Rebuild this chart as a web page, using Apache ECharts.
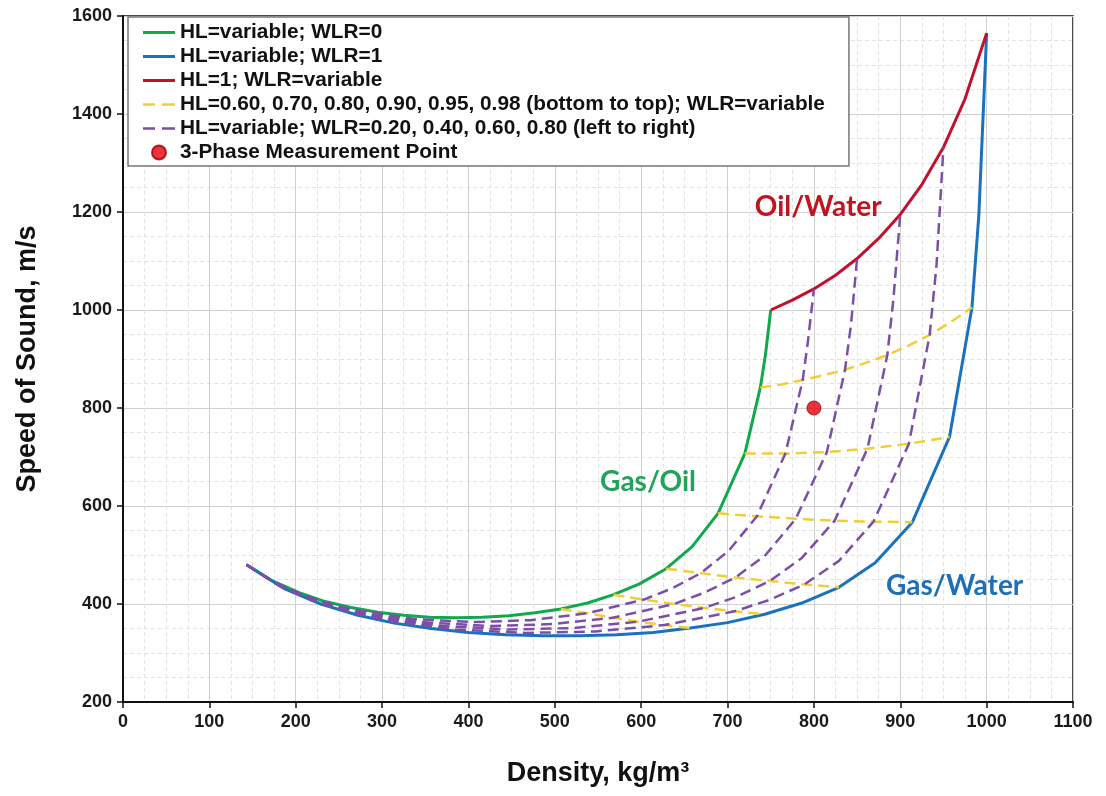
<!DOCTYPE html>
<html>
<head>
<meta charset="utf-8">
<script src="https://cdn.jsdelivr.net/npm/echarts@6/dist/echarts.min.js"></script>
<style>
html,body{margin:0;padding:0;background:#fff;}
#chart{width:1106px;height:796px;}
</style>
</head>
<body>
<div id="chart"></div>
<script>
// ---- data (density kg/m3, speed of sound m/s) ----
const gasOilX   = [143, 173, 204, 234, 264, 295, 325, 355, 386, 416, 447, 477, 507, 538, 568, 598, 629, 659, 689, 720, 738, 744, 750];
const gasOilY   = [480, 447, 423, 405, 393, 383, 377, 373, 372, 373, 376, 382, 390, 402, 419, 441, 472, 517, 585, 707, 842, 910, 1000];
const gasWaterX = [143, 186, 229, 272, 314, 357, 400, 443, 486, 529, 572, 614, 657, 700, 743, 786, 829, 871, 914, 957, 983, 991, 1000];
const gasWaterY = [480, 432, 400, 377, 361, 350, 342, 337, 335, 335, 337, 342, 351, 362, 379, 402, 434, 484, 567, 741, 1005, 1194, 1565];
const oilWaterX = [750, 775, 800, 825, 850, 875, 900, 925, 950, 975, 1000];
const oilWaterY = [1000, 1020, 1043, 1071, 1105, 1146, 1195, 1256, 1332, 1431, 1565];

const hl60X = [507, 537, 567, 597, 627, 657];
const hl60Y = [390, 381, 372, 364, 357, 351];
const hl70X = [568, 603, 638, 673, 708, 743];
const hl70Y = [419, 409, 400, 392, 385, 379];
const hl80X = [629, 669, 709, 749, 789, 829];
const hl80Y = [472, 463, 454, 447, 440, 434];
const hl90X = [689, 734, 779, 824, 869, 914];
const hl90Y = [585, 579, 574, 570, 568, 567];
const hl95X = [720, 767, 815, 862, 910, 957];
const hl95Y = [707, 707, 710, 717, 727, 741];
const hl98X = [738, 762, 787, 811, 836, 860, 885, 909, 934, 958, 983];
const hl98Y = [842, 848, 857, 867, 878, 892, 908, 927, 949, 975, 1005];

const wlr20X = [143, 176, 209, 242, 274, 340, 406, 472, 537, 603, 636, 669, 701, 734, 767, 787, 793, 800];
const wlr20Y = [480, 444, 418, 399, 386, 369, 363, 367, 381, 409, 432, 463, 508, 579, 707, 857, 935, 1043];
const wlr40X = [143, 178, 214, 249, 284, 355, 426, 497, 567, 638, 673, 709, 744, 779, 815, 836, 843, 850];
const wlr40Y = [480, 441, 413, 393, 379, 362, 355, 359, 372, 400, 423, 454, 500, 574, 710, 878, 971, 1105];
const wlr60X = [143, 181, 219, 257, 294, 370, 446, 522, 597, 673, 711, 749, 786, 824, 862, 885, 892, 900];
const wlr60Y = [480, 438, 409, 388, 373, 355, 348, 351, 364, 392, 415, 447, 494, 570, 717, 908, 1021, 1195];
const wlr80X = [143, 183, 224, 264, 304, 385, 466, 547, 627, 708, 748, 789, 829, 869, 910, 934, 942, 950];
const wlr80Y = [480, 435, 404, 383, 367, 348, 341, 344, 357, 385, 408, 440, 488, 568, 727, 949, 1092, 1332];

const measX = [800];
const measY = [800];

const legendNames = [
  'HL=variable; WLR=0',
  'HL=variable; WLR=1',
  'HL=1; WLR=variable',
  'HL=0.60, 0.70, 0.80, 0.90, 0.95, 0.98 (bottom to top); WLR=variable',
  'HL=variable; WLR=0.20, 0.40, 0.60, 0.80 (left to right)',
  '3-Phase Measurement Point'
];

// ---- build ----
const FONT = "'Liberation Sans', Arial, Helvetica, sans-serif";
const pairs = (xs, ys) => xs.map((x, i) => [x, ys[i]]);
const C_GREEN = '#12a84e', C_BLUE = '#1a72bf', C_RED = '#c3102b',
      C_YEL = '#f3cd38', C_PUR = '#7b4ea8';

function solid(name, xs, ys, color) {
  return { name, type: 'line', data: pairs(xs, ys), symbol: 'none', showSymbol: false,
    lineStyle: { color, width: 3, join: 'round' }, itemStyle: { color }, z: 3 };
}
function dashed(name, xs, ys, color) {
  return { name, type: 'line', data: pairs(xs, ys), symbol: 'none', showSymbol: false,
    lineStyle: { color, width: 2.5, type: [11, 6], join: 'round' }, itemStyle: { color }, z: 4 };
}

const series = [
  solid(legendNames[0], gasOilX, gasOilY, C_GREEN),
  solid(legendNames[1], gasWaterX, gasWaterY, C_BLUE),
  solid(legendNames[2], oilWaterX, oilWaterY, C_RED),
  dashed(legendNames[3], hl60X, hl60Y, C_YEL),
  dashed(legendNames[3], hl70X, hl70Y, C_YEL),
  dashed(legendNames[3], hl80X, hl80Y, C_YEL),
  dashed(legendNames[3], hl90X, hl90Y, C_YEL),
  dashed(legendNames[3], hl95X, hl95Y, C_YEL),
  dashed(legendNames[3], hl98X, hl98Y, C_YEL),
  dashed(legendNames[4], wlr20X, wlr20Y, C_PUR),
  dashed(legendNames[4], wlr40X, wlr40Y, C_PUR),
  dashed(legendNames[4], wlr60X, wlr60Y, C_PUR),
  dashed(legendNames[4], wlr80X, wlr80Y, C_PUR),
  { name: legendNames[5], type: 'scatter', data: pairs(measX, measY), symbol: 'circle',
    symbolSize: 14, itemStyle: { color: '#e3000f', borderColor: '#a00000', borderWidth: 1 }, z: 6 }
];

// legend icons: thin bar (solid) / two dashes (dashed); corner specks keep a 32x14 box
const BOX = 'M0,0L0.01,0L0.01,0.01Z M32,14L31.99,14L31.99,13.99Z ';
const ICON_SOLID = 'path://' + BOX + 'M0,5.5H32V8.5H0Z';
const ICON_DASH  = 'path://' + BOX + 'M0,5.7H12V8.3H0Z M19,5.7H32V8.3H19Z';
const legendData = [
  { name: legendNames[0], icon: ICON_SOLID, itemStyle: { color: C_GREEN } },
  { name: legendNames[1], icon: ICON_SOLID, itemStyle: { color: C_BLUE } },
  { name: legendNames[2], icon: ICON_SOLID, itemStyle: { color: C_RED } },
  { name: legendNames[3], icon: ICON_DASH,  itemStyle: { color: C_YEL } },
  { name: legendNames[4], icon: ICON_DASH,  itemStyle: { color: C_PUR } },
  { name: legendNames[5], icon: 'circle',   itemStyle: { color: '#e3000f' } }
];

const chart = echarts.init(document.getElementById('chart'), null, { renderer: 'canvas' });
const axisLabelStyle = { color: '#1a1a1a', fontSize: 18, fontWeight: 'bold', fontFamily: FONT,
  formatter: v => String(v) };
chart.setOption({
  animation: false,
  backgroundColor: '#ffffff',
  grid: { left: 123, right: 33, top: 16, bottom: 94, show: true, borderColor: '#111', borderWidth: 1.5, containLabel: false },
  legend: {
    data: legendData,
    orient: 'vertical',
    left: 128, top: 17,
    padding: [5, 24, 3, 15],
    itemWidth: 32, itemHeight: 14, itemGap: 3,
    backgroundColor: '#fff',
    borderColor: '#777', borderWidth: 1.5,
    selectedMode: false,
    textStyle: { color: '#111', fontSize: 20.8, fontWeight: 'bold', fontFamily: FONT, lineHeight: 20 }
  },
  xAxis: {
    type: 'value', min: 0, max: 1100, interval: 100,
    name: 'Density, kg/m³', nameLocation: 'middle', nameGap: 58,
    nameTextStyle: { color: '#111', fontSize: 27, fontWeight: 'bold', fontFamily: FONT },
    axisLine: { show: true, lineStyle: { color: '#111', width: 2 } },
    axisTick: { show: true, inside: false, length: 6, lineStyle: { color: '#111', width: 1.5 } },
    axisLabel: Object.assign({ margin: 11 }, axisLabelStyle),
    splitLine: { show: true, lineStyle: { color: '#d0d0d0', width: 1 } },
    minorTick: { show: false, splitNumber: 4 },
    minorSplitLine: { show: true, lineStyle: { color: '#e2e2e2', width: 1, type: [4, 3] } }
  },
  yAxis: {
    type: 'value', min: 200, max: 1600, interval: 200,
    name: 'Speed of Sound, m/s', nameLocation: 'middle', nameGap: 82,
    nameTextStyle: { color: '#111', fontSize: 27, fontWeight: 'bold', fontFamily: FONT },
    axisLine: { show: true, lineStyle: { color: '#111', width: 2 } },
    axisTick: { show: true, inside: false, length: 6, lineStyle: { color: '#111', width: 1.5 } },
    axisLabel: Object.assign({ margin: 11 }, axisLabelStyle),
    splitLine: { show: true, lineStyle: { color: '#d0d0d0', width: 1 } },
    minorTick: { show: false, splitNumber: 4 },
    minorSplitLine: { show: true, lineStyle: { color: '#e2e2e2', width: 1, type: [4, 3] } }
  },
  series
});

// region annotations placed in data coordinates
const notes = [
  { text: 'Oil/Water', at: [805, 1210], color: '#c0141e' },
  { text: 'Gas/Oil',   at: [608, 649],  color: '#22a35a' },
  { text: 'Gas/Water', at: [963, 437],  color: '#1d6fb8' }
];
chart.setOption({
  graphic: notes.map(n => {
    const p = chart.convertToPixel({ gridIndex: 0 }, n.at);
    return { type: 'text', x: p[0], y: p[1], z: 10,
      style: { text: n.text, fill: n.color, font: "bold 28px Lato, 'Open Sans', sans-serif",
               align: 'center', verticalAlign: 'middle' } };
  })
});
</script>
</body>
</html>
